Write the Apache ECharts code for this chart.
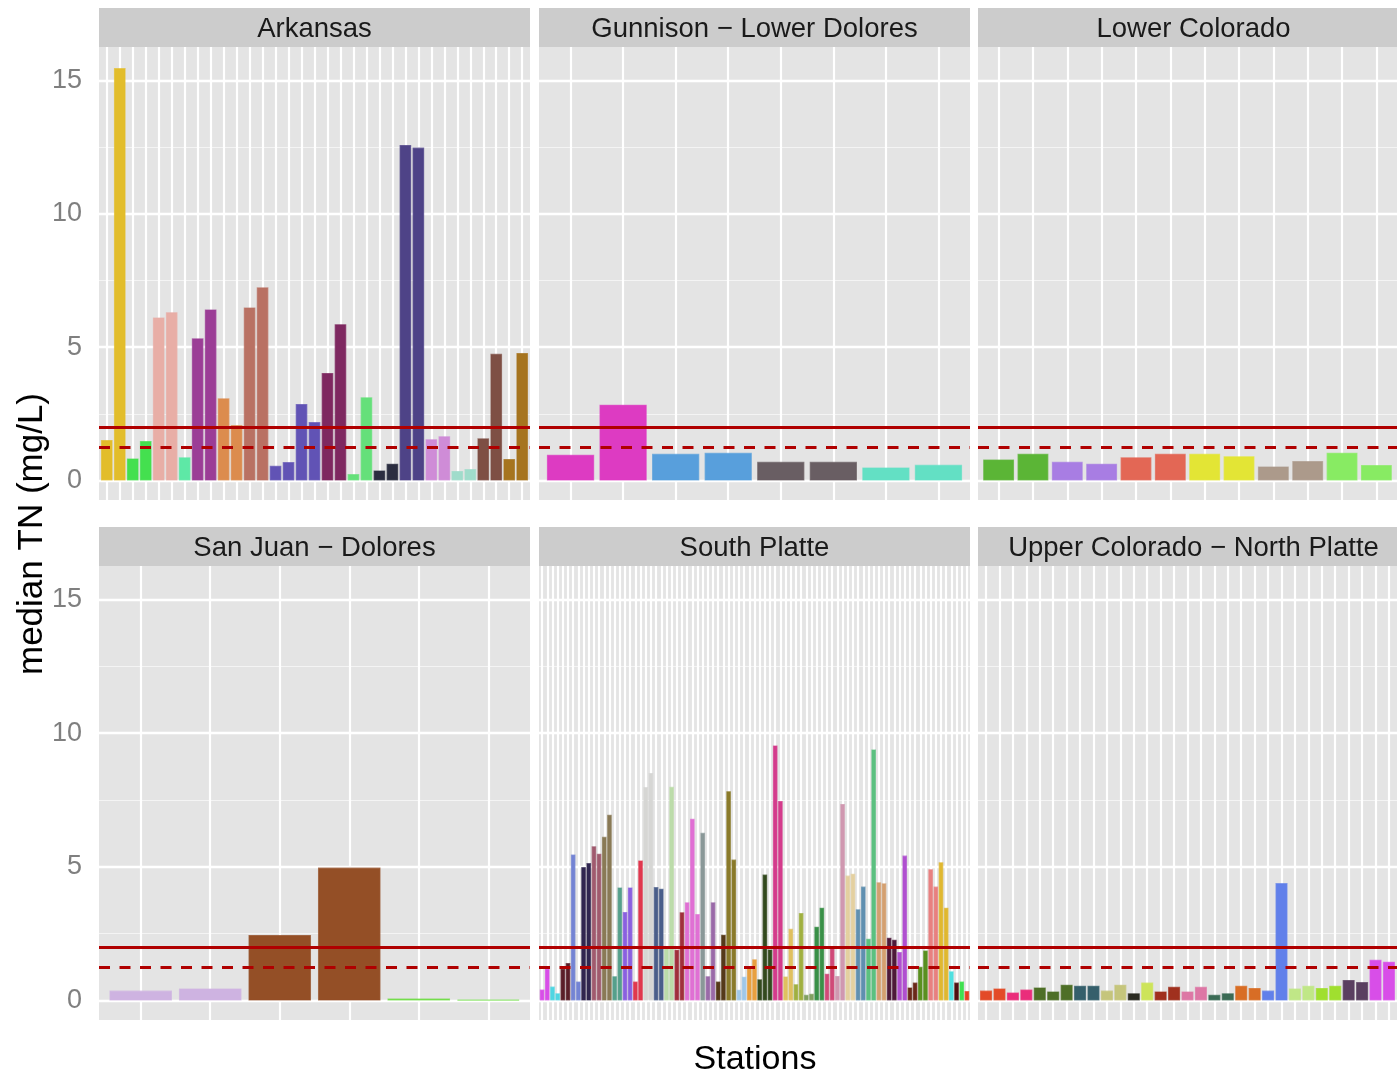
<!DOCTYPE html>
<html>
<head>
<meta charset="utf-8">
<script src="https://cdn.jsdelivr.net/npm/echarts@6/dist/echarts.min.js"></script>
<style>
  html, body { margin: 0; padding: 0; background: #ffffff; }
  #chart { width: 1397px; height: 1077px; }
</style>
</head>
<body>
<div id="chart"></div>
<script>
// Basin facets, left to right, top to bottom
const basins = ['Arkansas', 'Gunnison − Lower Dolores', 'Lower Colorado',
                'San Juan − Dolores', 'South Platte', 'Upper Colorado − North Platte'];

// Median total nitrogen (mg/L) for each station, in station order within each basin
const tnArkansas = [1.52, 15.46, 0.83, 1.48, 6.11, 6.31, 0.87, 5.33, 6.41, 3.08, 2.08,
  6.49, 7.24, 0.55, 0.69, 2.87, 2.19, 4.03, 5.86, 0.24, 3.12, 0.38, 0.63, 12.58, 12.48,
  1.55, 1.66, 0.36, 0.43, 1.58, 4.75, 0.81, 4.78];
const tnGunnison = [0.97, 2.84, 1.00, 1.04, 0.70, 0.70, 0.49, 0.59];
const tnLowerColorado = [0.79, 1.00, 0.70, 0.63, 0.87, 1.00, 1.00, 0.91, 0.53, 0.73, 1.04, 0.58];
const tnSanJuan = [0.37, 0.45, 2.45, 4.97, 0.07, 0.03];
const tnSouthPlatte = [0.41, 1.19, 0.52, 0.27, 1.19, 1.40, 5.46, 0.71, 4.99, 5.14,
  5.77, 5.49, 6.12, 6.95, 0.91, 4.23, 3.31, 4.23, 0.71, 5.24,
  7.98, 8.51, 4.24, 4.18, 1.95, 7.99, 1.90, 3.30, 3.67, 6.80,
  3.23, 6.27, 0.91, 3.67, 0.71, 2.46, 7.83, 5.27, 0.40, 0.89,
  1.24, 1.54, 0.79, 4.71, 1.91, 9.54, 7.46, 0.90, 2.68, 0.61,
  3.27, 0.21, 0.25, 2.76, 3.47, 1.00, 2.00, 0.92, 7.35, 4.67,
  4.74, 3.41, 4.26, 2.31, 9.39, 4.42, 4.38, 2.35, 2.27, 1.81,
  5.42, 0.49, 0.67, 1.26, 1.87, 4.91, 4.26, 5.17, 3.47, 1.09,
  0.67, 0.71, 0.35];
const tnUpperColorado = [0.37, 0.45, 0.30, 0.41, 0.49, 0.34, 0.59, 0.55, 0.55, 0.37,
  0.59, 0.27, 0.67, 0.34, 0.51, 0.34, 0.51, 0.21, 0.27, 0.55,
  0.47, 0.37, 4.39, 0.45, 0.55, 0.47, 0.55, 0.77, 0.69, 1.52, 1.45];

// Reference levels (mg/L)
const tnSolidLevel = 2.0;
const tnDashedLevel = 1.25;

// Y axis ticks
const yTicks = [0, 5, 10, 15];
const yMinorTicks = [2.5, 7.5, 12.5];

// Axis titles
const yTitle = 'median TN (mg/L)';
const xTitle = 'Stations';

// Fill colours: [colour, number of consecutive stations sharing it]
const fillArkansas = [['#e2bd2b', 2], ['#44e04f', 2], ['#e8aea6', 2], ['#5ee8a6', 1],
  ['#9b3d96', 2], ['#dc8c4e', 2], ['#b97163', 2], ['#6153b5', 4], ['#7e2860', 2],
  ['#65e07a', 2], ['#2b2d40', 2], ['#4e4387', 2], ['#cf8cd7', 2], ['#a0dccb', 2],
  ['#7e4f44', 2], ['#a6741f', 2]];
const fillGunnison = [['#dd3bc2', 2], ['#589fdc', 2], ['#695e63', 2], ['#63e0c4', 2]];
const fillLowerColorado = [['#5bb536', 2], ['#a87de3', 2], ['#e36755', 2], ['#e3e535', 2],
  ['#ac9a8b', 2], ['#88eb63', 2]];
const fillSanJuan = [['#ceb3e1', 2], ['#944f26', 2], ['#6bdc3e', 2]];
const fillSouthPlatte = [['#d84ee8', 2], ['#4fd6e2', 2], ['#5a1e28', 2], ['#7484d4', 2],
  ['#302650', 2], ['#a05a6e', 2], ['#8a7a56', 2], ['#55a08c', 2], ['#8a60e0', 2],
  ['#e0384e', 2], ['#d6d6d4', 2], ['#4a5e8a', 2], ['#bcdcaa', 2], ['#a0303c', 2],
  ['#e070d4', 3], ['#8a9898', 1], ['#9a6aa8', 2], ['#553a1a', 2], ['#8a7a2a', 2],
  ['#a0c8e8', 2], ['#e8a040', 2], ['#334a1e', 3], ['#d43c8c', 2], ['#e0c060', 2],
  ['#a0b040', 2], ['#80a060', 2], ['#3a9048', 2], ['#d04a78', 2], ['#d098b0', 2],
  ['#e4d0a0', 2], ['#6090b0', 2], ['#5cc080', 2], ['#d4a070', 2], ['#4e1a3a', 2],
  ['#b050d0', 2], ['#6a2818', 2], ['#5a9020', 2], ['#e88080', 2], ['#e0b830', 2],
  ['#50e0e0', 1], ['#501010', 1], ['#40e050', 1], ['#e84020', 1]];
const fillUpperColorado = [['#e34a27', 2], ['#ea2d7b', 2], ['#4e6f27', 3], ['#355f6b', 2],
  ['#c5c57c', 2], ['#2b2b22', 1], ['#cde45a', 1], ['#a0301e', 2], ['#dd77a5', 2],
  ['#3b6b55', 2], ['#d86d25', 2], ['#6180ea', 2], ['#c0e787', 2], ['#a0df2f', 2],
  ['#5a3f60', 2], ['#d84ee8', 2]];

// ---- layout & styling ----
const FONT = '"Liberation Sans", Arial, Helvetica, sans-serif';
const colLeft = [99, 539, 978];
const panelW = 431;
const rowTop = [47, 566];
const panelH = [453, 454];
const stripH = 39;
const yMin = -0.73, yMax = 16.25;
const xPad = 0.6;               // discrete-scale padding on each side, in station units
const panelBg = '#e4e4e4';
const stripBg = '#cccccc';
const refRed = '#b00000';

function expandFills(runs) {
  const out = [];
  runs.forEach(([c, n]) => { for (let k = 0; k < n; k++) out.push(c); });
  return out;
}
function soften(hex) {
  const n = parseInt(hex.slice(1), 16);
  return 'rgba(' + ((n >> 16) & 255) + ',' + ((n >> 8) & 255) + ',' + (n & 255) + ',0.7)';
}

const panels = [
  { values: tnArkansas, fills: fillArkansas },
  { values: tnGunnison, fills: fillGunnison },
  { values: tnLowerColorado, fills: fillLowerColorado },
  { values: tnSanJuan, fills: fillSanJuan },
  { values: tnSouthPlatte, fills: fillSouthPlatte },
  { values: tnUpperColorado, fills: fillUpperColorado }
];

const grid = [], xAxis = [], yAxis = [], series = [], graphic = [];

panels.forEach((p, i) => {
  const col = i % 3, row = Math.floor(i / 3);
  const left = colLeft[col], top = rowTop[row], h = panelH[row];
  const n = p.values.length;
  const stations = p.values.map((_, k) => k);
  const colors = expandFills(p.fills);

  grid.push({ left: left, top: top, width: panelW, height: h, show: true,
              backgroundColor: panelBg, borderWidth: 0 });

  // station position axis: one unit per station
  xAxis.push({ type: 'value', gridIndex: i, min: -xPad, max: n - 1 + xPad,
               axisLine: { show: false }, axisTick: { show: false },
               axisLabel: { show: false }, splitLine: { show: false } });

  yAxis.push({ type: 'value', gridIndex: i, min: yMin, max: yMax,
               axisLine: { show: false }, axisTick: { show: false },
               splitLine: { show: false },
               axisLabel: col === 0
                 ? { show: true, customValues: yTicks, color: '#7f7f7f', fontSize: 27,
                     fontFamily: FONT, margin: 17 }
                 : { show: false } });

  // panel grid lines (under the bars)
  const gl = [];
  yTicks.forEach(v => gl.push({ yAxis: v, lineStyle: { color: '#ffffff', width: 2.3, type: 'solid' } }));
  yMinorTicks.forEach(v => gl.push({ yAxis: v, lineStyle: { color: '#f4f4f4', width: 1.1, type: 'solid' } }));
  stations.forEach(s => gl.push({ xAxis: s, lineStyle: { color: '#ffffff', width: 2.2, type: 'solid' } }));
  series.push({
    type: 'line', xAxisIndex: i, yAxisIndex: i, data: [], silent: true,
    markLine: { silent: true, z: 1, symbol: ['none', 'none'], label: { show: false },
                emphasis: { disabled: true }, data: gl }
  });

  // station bars with the two reference levels on top
  series.push({
    type: 'bar', xAxisIndex: i, yAxisIndex: i, barCategoryGap: '10%',
    data: p.values.map((v, k) => ({
      value: [stations[k], v],
      itemStyle: { color: colors[k], borderColor: soften(colors[k]), borderWidth: 1.2 }
    })),
    emphasis: { disabled: true },
    markLine: {
      silent: true, symbol: ['none', 'none'], label: { show: false },
      emphasis: { disabled: true },
      data: [
        { yAxis: tnSolidLevel, lineStyle: { color: refRed, width: 3, type: 'solid' } },
        { yAxis: tnDashedLevel, lineStyle: { color: refRed, width: 3, type: [11, 9.5] } }
      ]
    }
  });

  // facet strip
  graphic.push({ type: 'rect', silent: true,
                 shape: { x: left, y: top - stripH, width: panelW, height: stripH },
                 style: { fill: stripBg } });
  graphic.push({ type: 'text', silent: true, x: left + panelW / 2, y: top - stripH / 2 + 2,
                 style: { text: basins[i], font: '27.5px ' + FONT, fill: '#1a1a1a',
                          textAlign: 'center', textVerticalAlign: 'middle' } });
});

graphic.push({ type: 'text', silent: true, x: 32, y: 534, rotation: Math.PI / 2,
               style: { text: yTitle, font: '35px ' + FONT, fill: '#000000',
                        textAlign: 'center', textVerticalAlign: 'middle' } });
graphic.push({ type: 'text', silent: true, x: 755, y: 1060,
               style: { text: xTitle, font: '34px ' + FONT, fill: '#000000',
                        textAlign: 'center', textVerticalAlign: 'middle' } });

const chart = echarts.init(document.getElementById('chart'), null, { renderer: 'canvas' });
chart.setOption({
  animation: false,
  backgroundColor: '#ffffff',
  grid: grid,
  xAxis: xAxis,
  yAxis: yAxis,
  series: series,
  graphic: graphic
});
</script>
</body>
</html>
